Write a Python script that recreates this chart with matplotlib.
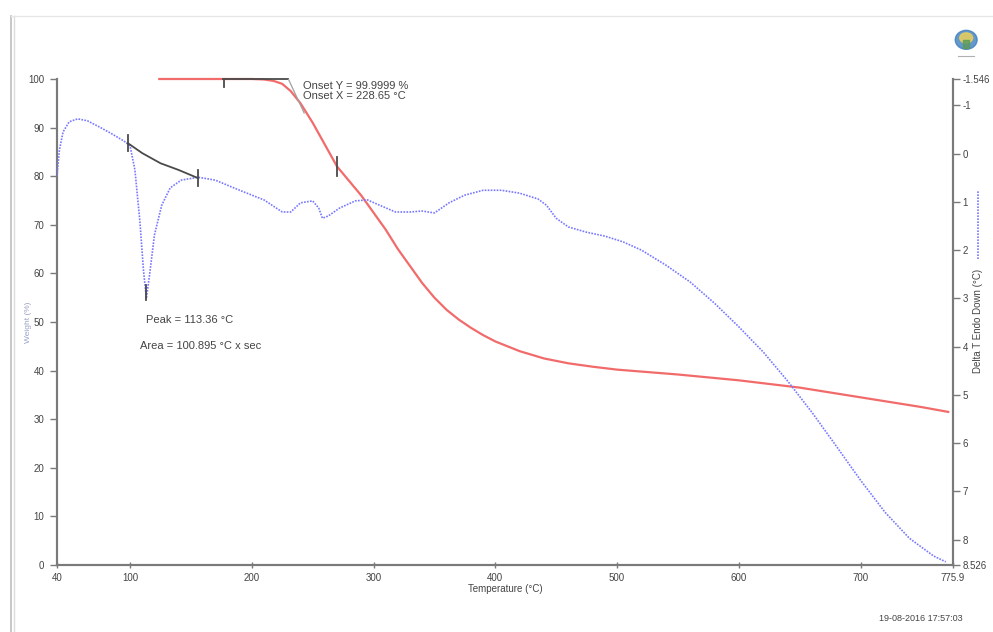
import matplotlib.pyplot as plt
from matplotlib.lines import Line2D
from matplotlib.patches import Rectangle, Ellipse

plt.rcParams['font.family'] = ['Liberation Sans', 'DejaVu Sans']

# TGA weight loss (%)
tga_temp = [124, 150, 180, 200, 210, 218, 225, 232, 240, 250, 260, 270, 280, 290, 300,
            310, 320, 330, 340, 350, 360, 370, 380, 390, 400, 420, 440, 460, 480, 500,
            550, 600, 650, 700, 750, 772]
tga_weight = [100, 100, 100, 100, 99.9, 99.6, 99.0, 97.5, 95.0, 91.0, 86.5, 82.0, 79.0, 76.0, 72.5,
              69.0, 65.0, 61.5, 58.0, 55.0, 52.5, 50.5, 48.8, 47.3, 46.0, 44.0, 42.5, 41.5, 40.8, 40.2,
              39.2, 38.0, 36.5, 34.5, 32.5, 31.5]

# DTA signal, delta T endo down (°C)
dta_temp = [40, 42, 45, 50, 57, 65, 75, 85, 95, 100, 104, 108, 111, 113.4, 116, 120, 126, 133,
            142, 156, 170, 190, 210, 225, 232, 240, 250, 255, 258, 263, 272, 285, 295, 305,
            318, 330, 340, 350, 362, 375, 390, 405, 420, 435, 442, 450, 460, 475, 490, 505,
            520, 540, 560, 580, 600, 620, 640, 660, 680, 700, 720, 740, 760, 770]
dta_delta = [0.46, -0.08, -0.45, -0.66, -0.72, -0.68, -0.55, -0.41, -0.26, -0.16, 0.34, 1.38, 2.41,
             3.0, 2.52, 1.69, 1.07, 0.71, 0.55, 0.49, 0.55, 0.76, 0.96, 1.21, 1.21, 1.02, 0.98,
             1.13, 1.34, 1.29, 1.13, 0.98, 0.96, 1.07, 1.21, 1.21, 1.19, 1.23, 1.02, 0.86, 0.76,
             0.76, 0.82, 0.94, 1.07, 1.34, 1.52, 1.63, 1.71, 1.83, 2.00, 2.31, 2.66, 3.10, 3.59,
             4.11, 4.71, 5.36, 6.06, 6.77, 7.43, 7.97, 8.34, 8.46]

# peak integration baseline on the DTA curve
base_temp = [98, 110, 125, 140, 156]
base_delta = [-0.22, -0.01, 0.20, 0.34, 0.51]
peak_temp, peak_delta = 113.36, 3.0

# onset construction on the TGA curve
onset_flat_temp = [176, 230]
onset_flat_weight = [100, 100]
onset_tan_temp = [230, 243]
onset_tan_weight = [100, 93]
step_mark_temp, step_mark_weight = 270, 82

x_ticks = [40, 100, 200, 300, 400, 500, 600, 700, 775.9]
x_labels = ['40', '100', '200', '300', '400', '500', '600', '700', '775.9']
left_ticks = [0, 10, 20, 30, 40, 50, 60, 70, 80, 90, 100]
right_ticks = [-1.546, -1, 0, 1, 2, 3, 4, 5, 6, 7, 8, 8.526]
right_labels = ['-1.546', '-1', '0', '1', '2', '3', '4', '5', '6', '7', '8', '8.526']

axis_col = '#7a7a7a'
text_col = '#444444'
mark_col = '#4a4a4a'

fig = plt.figure(figsize=(9.93, 6.32), dpi=100)

# page frame of the report
fig.add_artist(Line2D([0.011, 0.011], [0.0, 0.975], color='#bdbdbd', lw=1.2))
fig.add_artist(Line2D([0.014, 0.014], [0.0, 0.975], color='#dcdcdc', lw=1.0))
fig.add_artist(Line2D([0.011, 1.0], [0.975, 0.975], color='#e6e6e6', lw=1.0))
# small emblem in the header
fig.add_artist(Ellipse((0.973, 0.937), 0.022, 0.030, color='#3f7fbf', alpha=0.8))
fig.add_artist(Ellipse((0.973, 0.940), 0.013, 0.016, color='#e8cf5a', alpha=0.85))
fig.add_artist(Rectangle((0.970, 0.924), 0.006, 0.012, color='#5a9a5a', alpha=0.8))
fig.add_artist(Line2D([0.965, 0.981], [0.912, 0.912], color='#b0b0b0', lw=0.8))

ax = fig.add_axes([0.0574, 0.106, 0.9023, 0.769])
ax2 = ax.twinx()

ax.plot(tga_temp, tga_weight, color='#f26b6b', lw=1.6, zorder=3, clip_on=False)
ax2.plot(dta_temp, dta_delta, color='#7878ff', lw=1.2, ls=(0, (1, 0.8)), zorder=3)

# onset construction
ax.plot(onset_flat_temp, onset_flat_weight, color=mark_col, lw=1.3, zorder=4, clip_on=False)
ax.plot(onset_tan_temp, onset_tan_weight, color='#a0a0a0', lw=0.9, zorder=4)
ax.plot([onset_flat_temp[0] + 1] * 2, [100, 98.4], color=mark_col, lw=1.3, zorder=4)
ax.plot([step_mark_temp] * 2, [step_mark_weight + 2, step_mark_weight - 2], color=mark_col, lw=1.3, zorder=4)

# peak baseline and marks
ax2.plot(base_temp, base_delta, color=mark_col, lw=1.3, zorder=4)
for t, d in [(base_temp[0], base_delta[0]), (base_temp[-1], base_delta[-1])]:
    ax2.plot([t, t], [d - 0.17, d + 0.17], color=mark_col, lw=1.3, zorder=4)
ax2.plot([peak_temp, peak_temp], [peak_delta - 0.28, peak_delta + 0.03], color=mark_col, lw=1.3, zorder=4)

ax.set_xlim(40, 775.9)
ax.set_ylim(0, 100)
ax2.set_ylim(8.526, -1.546)

ax.set_xticks(x_ticks)
ax.set_xticklabels(x_labels)
ax.set_yticks(left_ticks)
ax2.set_yticks(right_ticks)
ax2.set_yticklabels(right_labels)

for a in (ax, ax2):
    a.spines['top'].set_visible(False)
    for s in ('left', 'right', 'bottom'):
        a.spines[s].set_color(axis_col)
        a.spines[s].set_linewidth(1.5)
    a.tick_params(colors=axis_col, labelcolor=text_col, labelsize=7, width=1, length=4)
ax.tick_params(axis='x', direction='inout', length=5, pad=3)
ax.tick_params(axis='y', direction='out', length=5, pad=4)
ax2.tick_params(axis='y', direction='out', length=5, pad=2)

ax.set_xlabel('Temperature (°C)', fontsize=7, color=text_col, labelpad=1)
# axis titles placed close to the tick labels
fig.text(0.029, 0.49, 'Weight (%)', fontsize=6, color='#9aa3c8', rotation=90, ha='center', va='center')
fig.text(0.985, 0.492, 'Delta T Endo Down (°C)', fontsize=7, color=text_col, rotation=90,
         ha='center', va='center')
# dotted legend sample beside the right axis title
fig.add_artist(Line2D([0.985, 0.985], [0.59, 0.70], color='#7878ff', lw=1.2, ls=(0, (1, 0.8))))

ax.text(242, 98.6, 'Onset Y = 99.9999 %', fontsize=8, color=text_col, va='center')
ax.text(242, 96.6, 'Onset X = 228.65 °C', fontsize=8, color=text_col, va='center')
ax.text(113, 50.4, 'Peak = 113.36 °C', fontsize=8, color=text_col, va='center')
ax.text(108, 45.0, 'Area = 100.895 °C x sec', fontsize=8, color=text_col, va='center')

fig.text(0.927, 0.017, '19-08-2016 17:57:03', fontsize=6.5, color=text_col, ha='center')

fig.savefig('out.png', dpi=100)
